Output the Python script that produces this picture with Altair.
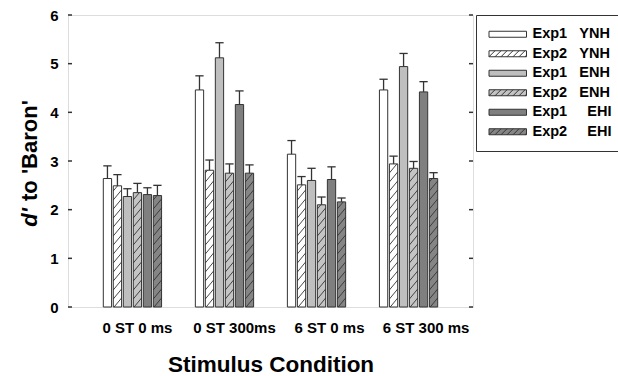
import json
import altair as alt
import pandas as pd

# ---- data -------------------------------------------------------------
conditions = ["0 ST 0 ms", "0 ST 300ms", "6 ST 0 ms", "6 ST 300 ms"]
series = ["Exp1 YNH", "Exp2 YNH", "Exp1 ENH", "Exp2 ENH", "Exp1 EHI", "Exp2 EHI"]

mean_exp1_ynh = [2.64, 4.46, 3.14, 4.46]
mean_exp2_ynh = [2.49, 2.81, 2.51, 2.94]
mean_exp1_enh = [2.27, 5.12, 2.60, 4.94]
mean_exp2_enh = [2.35, 2.75, 2.10, 2.85]
mean_exp1_ehi = [2.31, 4.16, 2.62, 4.42]
mean_exp2_ehi = [2.29, 2.75, 2.16, 2.64]

err_exp1_ynh = [0.26, 0.29, 0.28, 0.22]
err_exp2_ynh = [0.23, 0.21, 0.17, 0.16]
err_exp1_enh = [0.16, 0.31, 0.25, 0.27]
err_exp2_enh = [0.19, 0.19, 0.16, 0.14]
err_exp1_ehi = [0.14, 0.28, 0.26, 0.21]
err_exp2_ehi = [0.21, 0.17, 0.08, 0.12]

y_ticks = [0, 1, 2, 3, 4, 5, 6]

means = [mean_exp1_ynh, mean_exp2_ynh, mean_exp1_enh, mean_exp2_enh, mean_exp1_ehi, mean_exp2_ehi]
errors = [err_exp1_ynh, err_exp2_ynh, err_exp1_enh, err_exp2_enh, err_exp1_ehi, err_exp2_ehi]

# ---- styling ----------------------------------------------------------
FONT = "Liberation Sans"
INK = "#333333"
fills = ["#ffffff", "#ffffff", "#bfbfbf", "#c4c4c4", "#7f7f7f", "#858585"]
hatched = [False, True, False, True, False, True]

SLOT = 0.1086      # spacing between bars inside a group (x units)
HALF = 0.045       # half bar width (x units)
RISE = 0.205       # vertical rise of one hatch stroke (y units)
PITCH = 0.185      # vertical distance between hatch strokes (y units)


def swatch_path(with_hatch):
    """Legend swatch: a wide flat rectangle, optionally with '/' hatching."""
    hw, hh = 4.6875, 0.75
    parts = [f"M{-hw},{-hh}H{hw}V{hh}H{-hw}Z"]
    if with_hatch:
        run, step = 1.5, 1.5
        x0 = -hw - run
        while x0 < hw:
            t0 = max(0.0, (-hw - x0) / run)
            t1 = min(1.0, (hw - x0) / run)
            if t1 > t0:
                xa, ya = x0 + t0 * run, hh - t0 * 2 * hh
                xb, yb = x0 + t1 * run, hh - t1 * 2 * hh
                parts.append(f"M{xa:.3f},{ya:.3f}L{xb:.3f},{yb:.3f}")
            x0 += step
    return "".join(parts)


shapes = [swatch_path(h) for h in hatched]
outlines = [INK] * len(series)

rows = []
for si, name in enumerate(series):
    for ci, cond in enumerate(conditions):
        rows.append(dict(condition=cond, series=name, slot=si, group=ci + 1,
                         mean=means[si][ci], err=errors[si][ci], hatched=hatched[si]))
df = pd.DataFrame(rows)

x_scale = alt.Scale(domain=[0.3, 4.7], nice=False, zero=False)
y_scale = alt.Scale(domain=[0, 6], nice=False)

label_lookup = json.dumps(conditions)
x_axis = alt.Axis(
    values=[1, 2, 3, 4],
    labelExpr=f"{label_lookup}[datum.value - 1]",
    ticks=False, domain=False, grid=False,
    labelFont=FONT, labelFontSize=15, labelFontWeight="bold", labelColor="black",
    labelPadding=13, labelOverlap=False, labelFlush=False,
    labelOffset={"condition": [
        {"test": "datum.value === 1", "value": 4.5},
        {"test": "datum.value === 2", "value": 9.5},
        {"test": "datum.value === 3", "value": 12.5},
        {"test": "datum.value === 4", "value": 17},
    ], "value": 0},
    title="Stimulus Condition", titleFont=FONT, titleFontSize=22.5,
    titleFontWeight="bold", titleColor="black", titlePadding=18,
)
y_axis = alt.Axis(
    values=y_ticks, ticks=False, domain=False, grid=False,
    labelFont=FONT, labelFontSize=15, labelFontWeight="bold", labelColor="black",
    labelPadding=10, title=None,
)

# the group name sits in a right-aligned second column of the legend
legend_expr = ("replace(datum.label, ' ', indexof(datum.label, 'EHI') >= 0 ? "
               "'\u00a0\u00a0\u00a0\u00a0\u00a0' : '\u00a0\u00a0\u00a0') + '\u00a0\u00a0'")


def make_legend():
    return alt.Legend(
        title=None, labelExpr=legend_expr,
        orient="none", legendX=408, legendY=0,
        strokeColor=INK, fillColor="white",
        padding=12, rowPadding=4.5,
        symbolSize=64, symbolOffset=12.5, symbolStrokeWidth=1,
        symbolOpacity=1,
        labelOffset=17.5, labelFont=FONT, labelFontSize=14.5, labelFontWeight="bold",
        labelColor="black", labelLimit=300,
    )


fill_scale = alt.Scale(domain=series, range=fills)
shape_scale = alt.Scale(domain=series, range=shapes)
stroke_scale = alt.Scale(domain=series, range=outlines)

base = alt.Chart(df).transform_calculate(
    xc=f"datum.group + (datum.slot - 2.5) * {SLOT}",
).transform_calculate(
    xl=f"datum.xc - {HALF}",
    xr=f"datum.xc + {HALF}",
    top="datum.mean + datum.err",
    mid="datum.mean / 2",
    zero="0",
)

# carriers for the legend entries (tiny, hidden behind the bars)
legend_points = base.mark_point(filled=True, size=1, opacity=1, strokeWidth=1).encode(
    x=alt.X("xc:Q", scale=x_scale, axis=x_axis),
    y=alt.Y("mid:Q", scale=y_scale, axis=y_axis),
    fill=alt.Fill("series:N", scale=fill_scale, legend=make_legend()),
    shape=alt.Shape("series:N", scale=shape_scale, legend=make_legend()),
    stroke=alt.Stroke("series:N", scale=stroke_scale, legend=make_legend()),
)

bars = base.mark_bar(stroke=INK, strokeWidth=1).encode(
    x=alt.X("xl:Q", scale=x_scale, axis=x_axis),
    x2="xr:Q",
    y=alt.Y("mean:Q", scale=y_scale, axis=y_axis),
    y2="zero:Q",
    fill=alt.Fill("series:N", scale=fill_scale, legend=make_legend()),
)

# diagonal '/' hatching inside the Exp2 bars
hatch = base.transform_filter("datum.hatched").transform_calculate(
    k="sequence(0, 40)"
).transform_flatten(["k"]).transform_calculate(
    y0=f"datum.k * {PITCH} - {RISE}"
).transform_filter("datum.y0 < datum.mean").transform_calculate(
    ya="max(datum.y0, 0)",
    yb=f"min(datum.y0 + {RISE}, datum.mean)",
).transform_calculate(
    xa=f"datum.xl + (datum.ya - datum.y0) / {RISE} * (datum.xr - datum.xl)",
    xb=f"datum.xl + (datum.yb - datum.y0) / {RISE} * (datum.xr - datum.xl)",
).transform_filter("datum.yb > datum.ya").mark_rule(color=INK, strokeWidth=0.9).encode(
    x=alt.X("xa:Q", scale=x_scale, axis=x_axis),
    x2="xb:Q",
    y=alt.Y("ya:Q", scale=y_scale, axis=y_axis),
    y2="yb:Q",
)

whiskers = base.mark_rule(color=INK, strokeWidth=1.3).encode(
    x=alt.X("xc:Q", scale=x_scale, axis=x_axis),
    y=alt.Y("mean:Q", scale=y_scale, axis=y_axis),
    y2="top:Q",
)

caps = base.mark_rule(color=INK, strokeWidth=1.3).encode(
    x=alt.X("xl:Q", scale=x_scale, axis=x_axis),
    x2="xr:Q",
    y=alt.Y("top:Q", scale=y_scale, axis=y_axis),
)

# inward tick marks on the left and right frame edges
tick_df = pd.DataFrame({"v": y_ticks})
ticks_left = alt.Chart(tick_df).mark_rule(color=INK, strokeWidth=1.5).encode(
    y=alt.Y("v:Q", scale=y_scale, axis=y_axis),
    x=alt.value(0), x2=alt.value(4),
)
ticks_right = alt.Chart(tick_df).mark_rule(color=INK, strokeWidth=1.5).encode(
    y=alt.Y("v:Q", scale=y_scale, axis=y_axis),
    x=alt.value(401), x2=alt.value(405),
)

# y title: italic d' followed by upright text
title_italic = alt.Chart(pd.DataFrame({"t": ["d'"]})).mark_text(
    angle=270, font=FONT, fontSize=22, fontWeight="bold", fontStyle="italic",
    align="right", baseline="middle", color="black",
).encode(text="t:N", x=alt.value(-38), y=alt.value(193))
title_plain = alt.Chart(pd.DataFrame({"t": ["to 'Baron'"]})).mark_text(
    angle=270, font=FONT, fontSize=22, fontWeight="bold",
    align="left", baseline="middle", color="black",
).encode(text="t:N", x=alt.value(-38), y=alt.value(186))

chart = alt.layer(
    legend_points, bars, hatch, whiskers, caps, ticks_left, ticks_right,
    title_italic, title_plain,
).properties(
    width=405, height=292,
    autosize="none",
    padding={"left": 68, "top": 15, "right": 145, "bottom": 69},
).configure_view(
    stroke=INK, strokeWidth=2,
).configure_legend(
    strokeWidth=2,
).configure(background="white")

chart.save("out.html", embed_options={"renderer": "svg", "actions": False})
